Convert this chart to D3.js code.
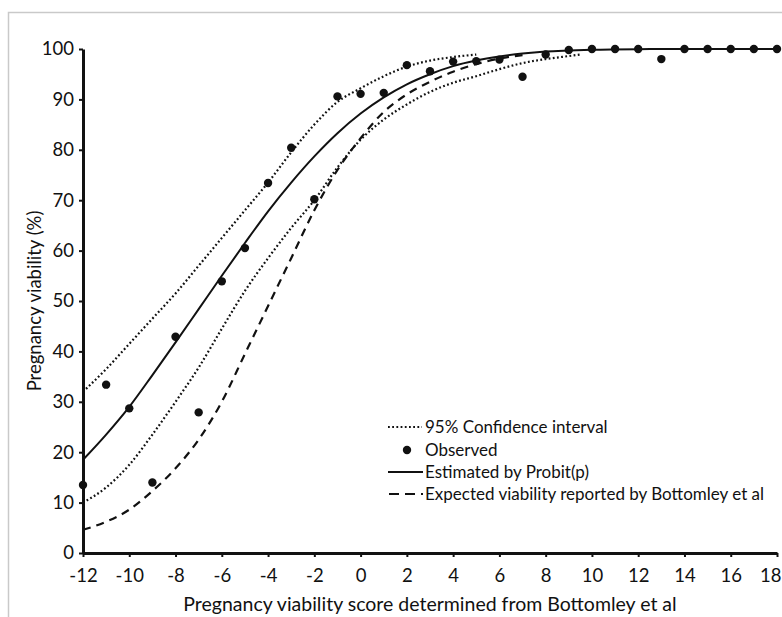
<!DOCTYPE html>
<html>
<head>
<meta charset="utf-8">
<script src="https://cdn.jsdelivr.net/npm/d3@7"></script>
<style>
  body { margin: 0; background: #fff; }
  text { font-family: Lato, "Noto Sans", sans-serif; fill: #111; }
</style>
</head>
<body>
<div id="chart"></div>
<script>
// observed points (score, % viable)
var obsX = [-12, -11, -10, -9, -8, -7, -6, -5, -4, -3, -2, -1, 0, 1, 2, 3, 4, 5, 6, 7, 8, 9, 10, 11, 12, 13, 14, 15, 16, 17, 18];
var obsY = [13.5, 33.4, 28.7, 14, 42.9, 27.9, 53.9, 60.5, 73.4, 80.4, 70.2, 90.6, 91.1, 91.3, 96.8, 95.6, 97.5, 97.6, 97.9, 94.5, 98.9, 99.8, 100, 100, 100, 98, 100, 100, 100, 100, 100];

// estimated by probit (solid)
var probitX = [-12, -11, -10, -9, -8, -7, -6, -5, -4, -3, -2, -1, 0, 1, 2, 3, 4, 5, 6, 7, 8, 9, 10, 12, 14, 16, 18];
var probitY = [18.5, 23.5, 29, 35.3, 41.8, 48.4, 55, 61.5, 67.8, 73.5, 78.7, 83.3, 87.2, 90.4, 93, 95, 96.6, 97.7, 98.5, 99.1, 99.5, 99.7, 99.85, 99.97, 100, 100, 100];

// 95% CI upper / lower (dotted)
var upperX = [-12, -11, -10, -9, -8, -7, -6, -5, -4, -3, -2, -1, 0, 1, 2, 3, 4, 5];
var upperY = [32, 36.5, 41.5, 46.5, 51.5, 57, 62.5, 68, 73.5, 79.5, 85, 89.5, 92.2, 94.6, 96.5, 97.7, 98.4, 98.9];
var lowerX = [-12, -11, -10, -9, -8, -7, -6, -5, -4, -3, -2, -1, 0, 1, 2, 3, 4, 5, 6, 7, 8, 9, 9.5];
var lowerY = [10, 13, 17.5, 23.5, 30, 36.8, 44.5, 52, 58.5, 64.5, 70, 76.5, 82, 86, 89, 91.5, 93.3, 94.6, 96, 97.2, 98, 98.6, 98.9];

// expected viability, Bottomley et al (dashed)
var bottX = [-12, -11, -10, -9, -8, -7, -6, -5, -4, -3, -2, -1, 0, 1, 2, 3, 4, 5, 6, 7];
var bottY = [4.6, 6.2, 8.6, 12.3, 16.8, 22.5, 30, 39.5, 49, 58.5, 68, 76, 82.3, 87.5, 91, 93.5, 95.5, 97, 98.1, 98.8];

var xTicks = d3.range(-12, 19, 2);
var yTicks = d3.range(0, 101, 10);

var legendLabels = ["95% Confidence interval", "Observed", "Estimated by Probit(p)", "Expected viability reported by Bottomley et al"];

var svgWidth = 782;
var svgHeight = 617;

var svg = d3.select("#chart")
  .append("svg")
  .attr("width", svgWidth)
  .attr("height", svgHeight);

// light frame round the figure
svg.append("rect")
  .attr("x", 8.5)
  .attr("y", 12.5)
  .attr("width", 820)
  .attr("height", 700)
  .attr("fill", "none")
  .attr("stroke", "#c9c9c9")
  .attr("stroke-width", 1.5);

var x = d3.scaleLinear().domain([-12, 18]).range([83, 777]);
var y = d3.scaleLinear().domain([0, 100]).range([553, 49]);

function toPts(xs, ys) {
  return xs.map(function(v, i) { return [v, ys[i]]; });
}

var line = d3.line()
  .x(d => x(d[0]))
  .y(d => y(d[1]))
  .curve(d3.curveMonotoneX);

var ink = "#111";

svg.append("path")
  .attr("d", line(toPts(upperX, upperY)))
  .attr("fill", "none").attr("stroke", ink)
  .attr("stroke-width", 2.2).attr("stroke-dasharray", "1.8,2.4");

svg.append("path")
  .attr("d", line(toPts(lowerX, lowerY)))
  .attr("fill", "none").attr("stroke", ink)
  .attr("stroke-width", 2.2).attr("stroke-dasharray", "1.8,2.4");

svg.append("path")
  .attr("d", line(toPts(bottX, bottY)))
  .attr("fill", "none").attr("stroke", ink)
  .attr("stroke-width", 2.2).attr("stroke-dasharray", "8,6");

svg.append("path")
  .attr("d", line(toPts(probitX, probitY)))
  .attr("fill", "none").attr("stroke", ink)
  .attr("stroke-width", 2);

svg.selectAll("circle.obs")
  .data(toPts(obsX, obsY))
  .enter()
  .append("circle")
  .attr("class", "obs")
  .attr("cx", d => x(d[0]))
  .attr("cy", d => y(d[1]))
  .attr("r", 4.2)
  .attr("fill", ink);

// axes
var yAxis = svg.append("g")
  .attr("transform", `translate(${x(-12)},0)`)
  .call(d3.axisLeft(y).tickValues(yTicks).tickSize(4).tickPadding(5).tickSizeOuter(0)
    .tickFormat(d => String(d)));

var xAxis = svg.append("g")
  .attr("transform", `translate(0,${y(0)})`)
  .call(d3.axisBottom(x).tickValues(xTicks).tickSize(4).tickPadding(12).tickSizeOuter(0)
    .tickFormat(d => String(d)));

[xAxis, yAxis].forEach(function(g) {
  g.select(".domain").attr("stroke", ink).attr("stroke-width", 3);
  g.selectAll(".tick line").attr("stroke", ink).attr("stroke-width", 2);
  g.selectAll(".tick text").style("font-size", "18.5px").attr("fill", ink);
});

// keep the last x label inside the page
xAxis.selectAll(".tick text")
  .filter(d => d === 18)
  .attr("text-anchor", "end")
  .attr("x", 4);

svg.append("text")
  .attr("x", x(3))
  .attr("y", 611)
  .attr("text-anchor", "middle")
  .style("font-size", "19.5px")
  .text("Pregnancy viability score determined from Bottomley et al");

svg.append("text")
  .attr("transform", "translate(41,301) rotate(-90)")
  .attr("text-anchor", "middle")
  .style("font-size", "18.5px")
  .text("Pregnancy viability (%)");

// legend
var legX = 388, legText = 425, legY = [427, 450, 472, 494];

var leg = svg.append("g");
leg.append("line")
  .attr("x1", legX).attr("x2", legX + 34).attr("y1", legY[0]).attr("y2", legY[0])
  .attr("stroke", ink).attr("stroke-width", 2).attr("stroke-dasharray", "1.8,2.4");
leg.append("circle")
  .attr("cx", legX + 19).attr("cy", legY[1]).attr("r", 4.2).attr("fill", ink);
leg.append("line")
  .attr("x1", legX).attr("x2", legX + 35).attr("y1", legY[2]).attr("y2", legY[2])
  .attr("stroke", ink).attr("stroke-width", 2);
leg.append("line")
  .attr("x1", legX + 1).attr("x2", legX + 35).attr("y1", legY[3]).attr("y2", legY[3])
  .attr("stroke", ink).attr("stroke-width", 2).attr("stroke-dasharray", "10,6");

leg.selectAll("text")
  .data(legendLabels)
  .enter()
  .append("text")
  .attr("x", legText)
  .attr("y", (d, i) => legY[i])
  .attr("dy", "0.35em")
  .style("font-size", "17px")
  .text(d => d);
</script>
</body>
</html>
